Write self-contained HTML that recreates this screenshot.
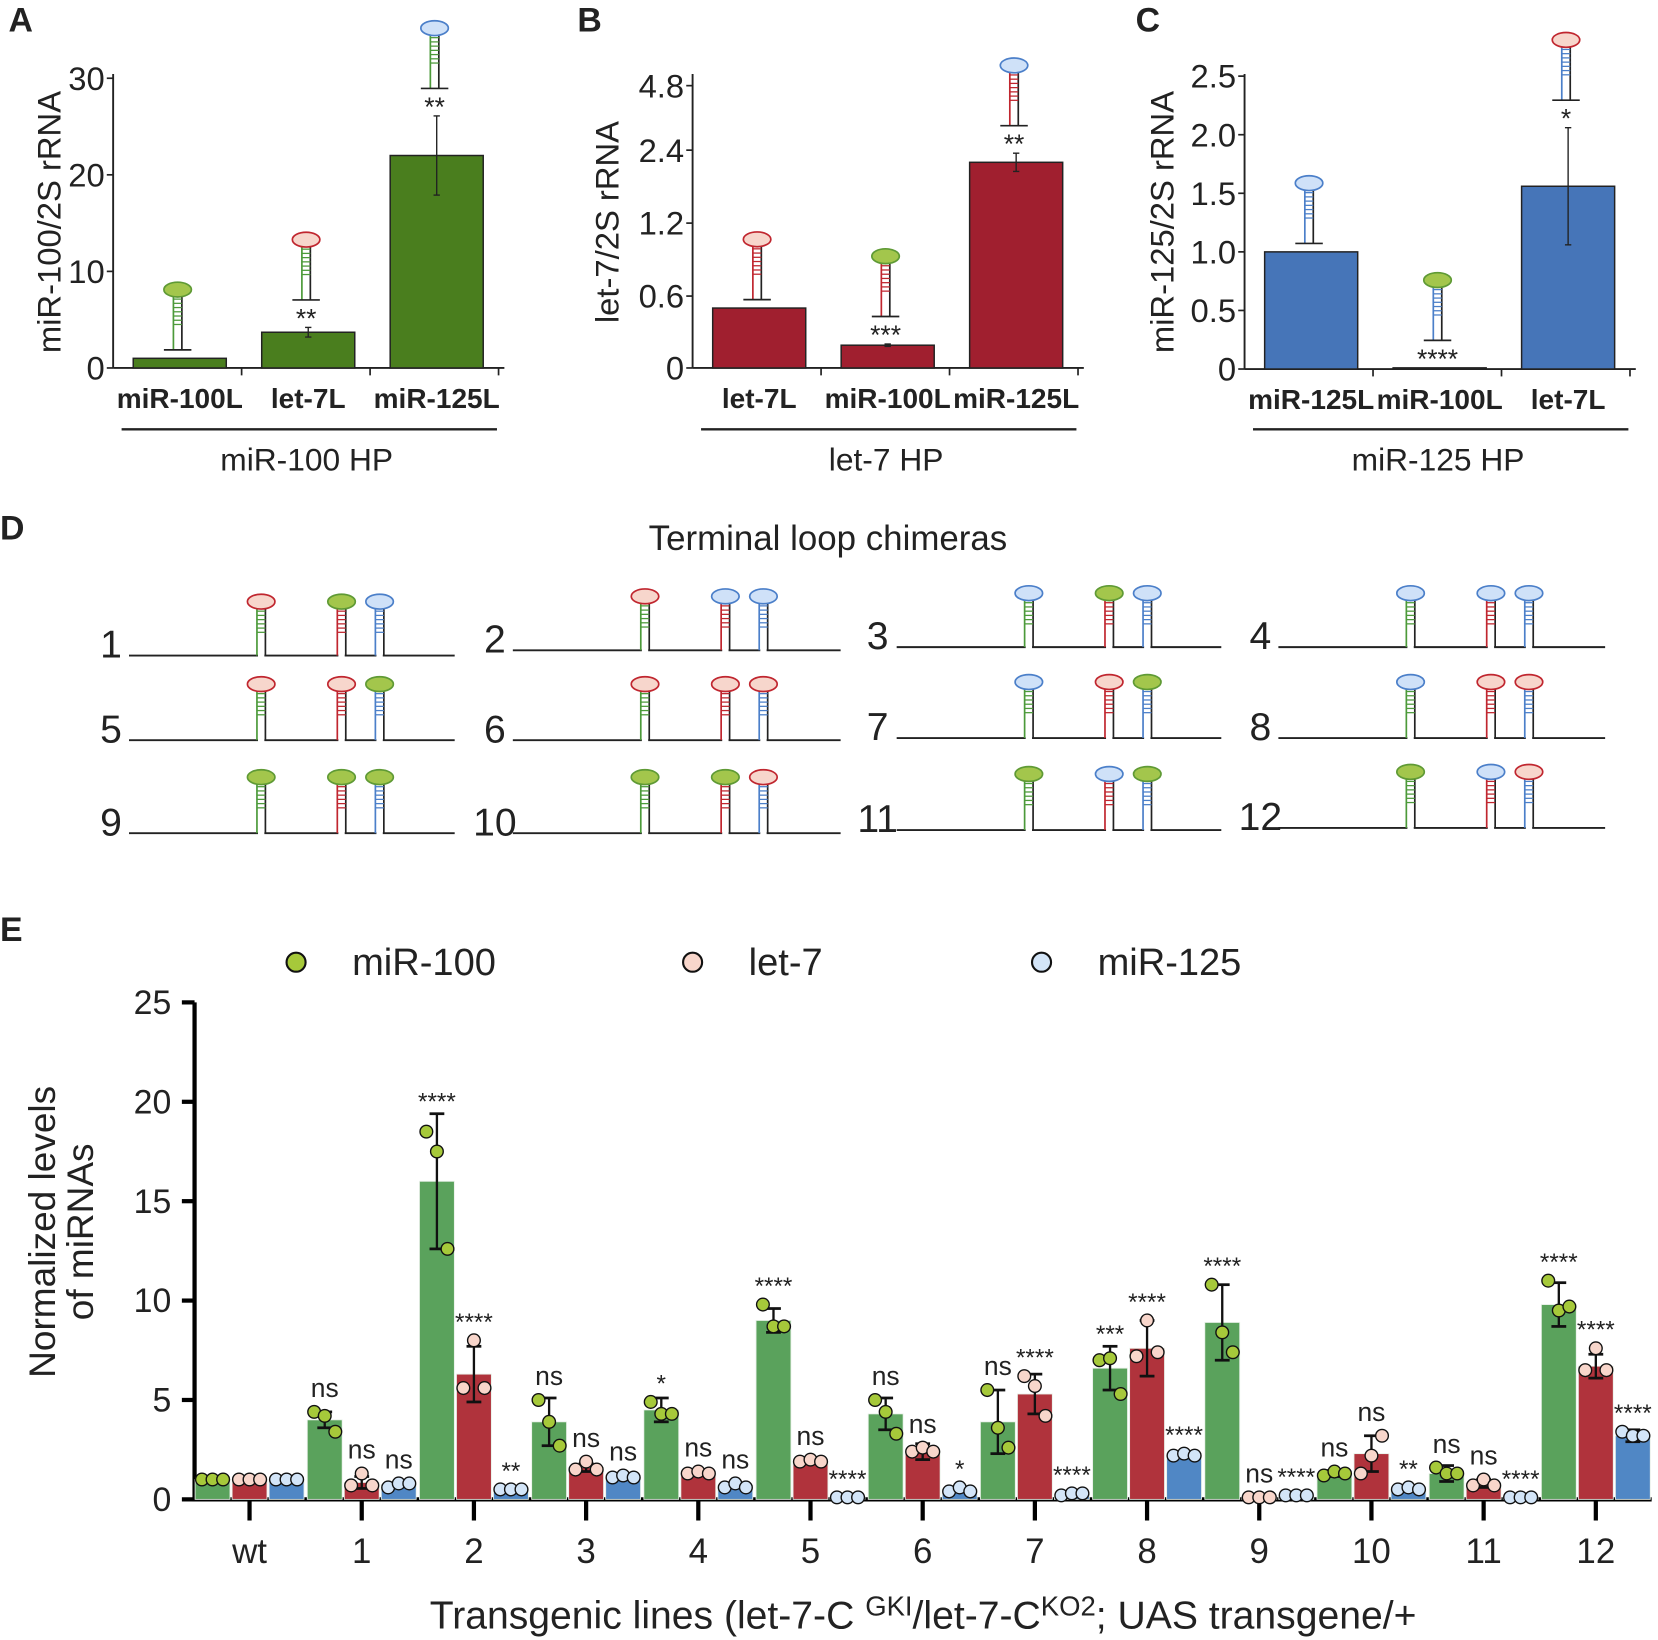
<!DOCTYPE html>
<html><head><meta charset="utf-8"><style>
html,body{margin:0;padding:0;background:#fff}
svg{display:block}
text{font-family:"Liberation Sans",Arial,sans-serif;fill:#222}
</style></head><body>
<svg id="fig" width="1658" height="1640" viewBox="0 0 1568 1551" preserveAspectRatio="none" xmlns="http://www.w3.org/2000/svg"></svg>
<script>
// ---- Panel A data ----
const aCats = ["miR-100L","let-7L","miR-125L"];
const aVals = [1, 3.7, 22];
const aErr = [0, 0.5, 4.1];
const aSig = ["", "**", "**"];
const aTicks = [0,10,20,30];
// ---- Panel B data ----
const bCats = ["let-7L","miR-100L","miR-125L"];
const bVals = [0.5, 0.19, 2.2];
const bErr = [0, 0.01, 0.15];
const bSig = ["", "***", "**"];
const bTicks = [0,0.6,1.2,2.4,4.8];
// ---- Panel C data ----
const cCats = ["miR-125L","miR-100L","let-7L"];
const cVals = [1.0, 0.01, 1.56];
const cErr = [0, 0, 0.5];
const cSig = ["", "****", "*"];
const cTicks = [0,0.5,1.0,1.5,2.0,2.5];
const cTickLabels = ["0","0.5","1.0","1.5","2.0","2.5"];
// ---- Panel E data ----
const eCats = ["wt","1","2","3","4","5","6","7","8","9","10","11","12"];
const eGreen = [1,4.0,16.0,3.9,4.5,9.0,4.3,3.9,6.6,8.9,1.3,1.3,9.8];
const eRed =   [1,0.85,6.3,1.6,1.3,1.9,2.4,5.3,7.6,0.15,2.3,0.8,6.7];
const eBlue =  [1,0.75,0.5,1.1,0.7,0.15,0.5,0.25,2.2,0.2,0.5,0.15,3.2];
const eGreenErr = [0,0.4,3.4,1.2,0.6,0.6,0.8,1.6,1.1,1.9,0.15,0.4,1.1];
const eRedErr =   [0,0.3,1.4,0.2,0.1,0.1,0.4,1.0,1.4,0,0.9,0.2,0.6];
const eBlueErr =  [0,0.1,0.05,0.1,0.1,0,0.1,0.05,0.1,0,0.1,0,0.3];
const eGreenDots = [[1,1,1],[4.4,4.2,3.4],[18.5,17.5,12.6],[5.0,3.9,2.7],[4.9,4.3,4.3],[9.8,8.7,8.7],[5.0,4.4,3.3],[5.5,3.6,2.6],[7.0,7.1,5.3],[10.8,8.4,7.4],[1.2,1.4,1.3],[1.6,1.3,1.3],[11.0,9.5,9.7]];
const eRedDots = [[1,1,1],[0.7,1.3,0.7],[5.6,8.0,5.6],[1.5,1.9,1.5],[1.3,1.4,1.3],[1.9,2.0,1.9],[2.4,2.6,2.4],[6.2,5.7,4.2],[7.2,9.0,7.4],[0.1,0.1,0.1],[1.3,2.2,3.2],[0.7,1.0,0.7],[6.5,7.6,6.5]];
const eBlueDots = [[1,1,1],[0.6,0.8,0.8],[0.5,0.5,0.5],[1.1,1.2,1.1],[0.6,0.8,0.6],[0.1,0.1,0.1],[0.4,0.6,0.4],[0.2,0.3,0.3],[2.2,2.3,2.2],[0.2,0.2,0.2],[0.5,0.6,0.5],[0.1,0.1,0.1],[3.4,3.2,3.2]];
const eGreenSig = ["","ns","****","ns","*","****","ns","ns","***","****","ns","ns","****"];
const eRedSig = ["","ns","****","ns","ns","ns","ns","****","****","ns","ns","ns","****"];
const eBlueSig = ["","ns","**","ns","ns","****","*","****","****","****","**","****","****"];
const eTicks = [0,5,10,15,20,25];
// ---- Panel D data (loop colours per construct) ----
const dLoops = [["R","G","B"],["R","B","B"],["B","G","B"],["B","B","B"],["R","R","G"],["R","R","R"],["B","R","G"],["B","R","R"],["G","G","G"],["G","G","R"],["G","B","G"],["G","B","R"]];

const NS="http://www.w3.org/2000/svg";
const svg=document.getElementById('fig');
function el(tag,attrs,parent){const e=document.createElementNS(NS,tag);for(const k in attrs)e.setAttribute(k,attrs[k]);(parent||svg).appendChild(e);return e;}
function txt(x,y,s,size,attrs,parent){const t=el('text',Object.assign({x:x,y:y,'font-size':size},attrs||{}),parent);t.textContent=s;return t;}
const LOOP={G:{f:"#a3c64c",s:"#5f9a35"},R:{f:"#f7d6cc",s:"#c0262f"},B:{f:"#cfe1f8",s:"#4b7fc9"}};
const STEM={G:"#4c9a3a",R:"#c0262f",B:"#4b7fc9"};
function hairpin(cx,top,bottom,loop,stem,base,parent){
  const g=el('g',{},parent);
  
  
  const ly=top+7;
  el('line',{x1:cx-4,y1:ly+6,x2:cx-4,y2:bottom,stroke:STEM[stem],'stroke-width':1.6},g);
  el('line',{x1:cx+4,y1:ly+6,x2:cx+4,y2:bottom,stroke:'#222','stroke-width':1.6},g);
  const rl=(bottom-ly)*0.6;
  for(let y=ly+9;y<ly+rl;y+=4)el('line',{x1:cx-4,y1:y,x2:cx+4,y2:y,stroke:STEM[stem],'stroke-width':1.2},g);
  el('ellipse',{cx:cx,cy:ly,rx:13,ry:7,fill:LOOP[loop].f,stroke:LOOP[loop].s,'stroke-width':1.6},g);
  if(base)el('line',{x1:cx-13,y1:bottom,x2:cx+13,y2:bottom,stroke:'#222','stroke-width':1.6},g);
  return g;
}
function panelLetter(x,y,s){const t=txt(x,y,s,32,{'font-weight':'bold',fill:'#000'});}

// ---- Top panels ----
function topPanel(cfg){
  const g=el('g',{});
  
  
  const y=cfg.yfun;
  el('line',{x1:cfg.ax,y1:cfg.y0,x2:cfg.ax,y2:cfg.ytop,stroke:'#222','stroke-width':1.8},g);
  el('line',{x1:cfg.ax,y1:cfg.y0,x2:cfg.ax+370,y2:cfg.y0,stroke:'#222','stroke-width':1.8},g);
  cfg.ticks.forEach((t,k)=>{
    el('line',{x1:cfg.ax-6,y1:y(t),x2:cfg.ax,y2:y(t),stroke:'#222','stroke-width':1.6},g);
    const lb=txt(cfg.ax-8,y(t)+11,cfg.tickLabels?cfg.tickLabels[k]:String(t),31,{'text-anchor':'end'},g);
    
    
  });
  for(let i=1;i<=3;i++){const tx=cfg.ax+i*121.5;el('line',{x1:tx,y1:cfg.y0,x2:tx,y2:cfg.y0+7,stroke:'#222','stroke-width':1.6},g);}
  cfg.vals.forEach((v,i)=>{
    const x0=cfg.ax+19+i*121.5, w=88;
    const r=el('rect',{x:x0,y:y(v),width:w,height:Math.max(cfg.y0-y(v),1),fill:cfg.color,stroke:'#222','stroke-width':1.4},g);
    
    
    const cx=x0+w/2;
    let topY=y(v);
    if(cfg.err[i]>0){
      const e1=y(v+cfg.err[i]),e2=y(Math.max(v-cfg.err[i],0));
      el('line',{x1:cx,y1:e1,x2:cx,y2:e2,stroke:'#222','stroke-width':1.3},g);
      el('line',{x1:cx-3,y1:e1,x2:cx+3,y2:e1,stroke:'#222','stroke-width':1.3},g);
      el('line',{x1:cx-3,y1:e2,x2:cx+3,y2:e2,stroke:'#222','stroke-width':1.3},g);
      topY=e1;
    }
    let sy=topY-8;
    if(cfg.sig[i]){const s=txt(cx-2,sy+8,cfg.sig[i],25,{'text-anchor':'middle'},g);sy-=18;}
    hairpin(cx-2,sy-64,sy,cfg.loops[i],cfg.stem,true,g);
    const cl=txt(cx,cfg.y0+38,cfg.cats[i],26.5,{'text-anchor':'middle','font-weight':'bold'},g);
    
    
  });
  el('line',{x1:cfg.ax+8,y1:406,x2:cfg.ax+363,y2:406,stroke:'#222','stroke-width':2.2},g);
  const gl=txt(cfg.ax+183,445,cfg.group,30,{'text-anchor':'middle'},g);
  
  const yt=txt(0,0,cfg.ytitle,31,{'text-anchor':'middle',transform:`translate(${cfg.ax-cfg.tOff},210) rotate(-90)`},g);
  
}
topPanel({name:'panel-a-chart',ax:107,tOff:50,y0:348,ytop:70,yfun:v=>348-v*(274/30),ticks:aTicks,vals:aVals,err:aErr,sig:aSig,cats:aCats,color:'#4a7e1e',stem:'G',loops:['G','R','B'],group:'miR-100 HP',ytitle:'miR-100/2S rRNA'});
const bPos=[348,280,211,142,81];
function bY(v){for(let i=0;i<bTicks.length-1;i++){if(v<=bTicks[i+1]){return bPos[i]+(v-bTicks[i])/(bTicks[i+1]-bTicks[i])*(bPos[i+1]-bPos[i]);}}return bPos[4];}
topPanel({name:'panel-b-chart',ax:655,tOff:70,y0:348,ytop:70,yfun:bY,ticks:bTicks,vals:bVals,err:bErr,sig:bSig,cats:bCats,color:'#a01f2f',stem:'R',loops:['R','G','B'],group:'let-7 HP',ytitle:'let-7/2S rRNA'});
topPanel({name:'panel-c-chart',ax:1177,tOff:67,y0:349,ytop:70,yfun:v=>349-v*(277/2.5),ticks:cTicks,tickLabels:cTickLabels,vals:cVals,err:cErr,sig:cSig,cats:cCats,color:'#4675b8',stem:'B',loops:['B','G','R'],group:'miR-125 HP',ytitle:'miR-125/2S rRNA'});
panelLetter(8,30,'A');panelLetter(546,30,'B');panelLetter(1074,30,'C');

// ---- Panel D ----
panelLetter(0,510,'D');
const dt=txt(783,520,'Terminal loop chimeras',33,{'text-anchor':'middle'});

const colX=[[105,122,430],[468,485,795],[830,848,1155],[1192,1209,1518]];
const rowY=[[620,615,612,612],[700,700,698,698],[788,788,785,783]];
dLoops.forEach((loops,k)=>{
  const r=Math.floor(k/4),c=k%4;
  const [nx,lx0,lx1]=colX[c];const ly=rowY[r][c];
  const g=el('g',{});
  
  
  txt(nx,ly+2,String(k+1),37,{'text-anchor':'middle'},g);
  el('line',{x1:lx0,y1:ly,x2:lx1,y2:ly,stroke:'#222','stroke-width':1.8},g);
  const offs=[125,201,237];
  const stems=['G','R','B'];
  offs.forEach((o,j)=>{const cx=lx0+o;el('rect',{x:cx-3,y:ly-3,width:6,height:6,fill:'#fff'},g);hairpin(cx,ly-60+(r===0?2:0),ly,loops[j],stems[j],false,g);});
});

// ---- Panel E ----
panelLetter(0,890,'E');
const eAx=184,eY0=1418,eTop=948;
const ey=v=>eY0-v*(eY0-eTop)/25;
const gx=i=>236+i*106.1;
const eColors=['#5aa25c','#b0333c','#5087c5'];
const dotFill=['#a6c93a','#f8d6cb','#d3e5f8'];
const legendNames=['miR-100','let-7','miR-125'];
[[280,333],[655,708],[985,1038]].forEach((p,i)=>{
  const g=el('g',{});
  
  
  el('circle',{cx:p[0],cy:910,r:9,fill:dotFill[i],stroke:'#111','stroke-width':2},g);
  txt(p[1],922,legendNames[i],36,{},g);
});
const eAxes=el('g',{});


el('line',{x1:eAx,y1:eY0+2,x2:eAx,y2:eTop,stroke:'#000','stroke-width':4},eAxes);
el('line',{x1:eAx-2,y1:eY0,x2:1562,y2:eY0,stroke:'#000','stroke-width':4},eAxes);
eTicks.forEach(t=>{
  el('line',{x1:eAx-12,y1:ey(t),x2:eAx,y2:ey(t),stroke:'#000','stroke-width':4},eAxes);
  const l=txt(eAx-22,ey(t)+11,String(t),32,{'text-anchor':'end'},eAxes);
  
});
eCats.forEach((c,i)=>{
  el('line',{x1:gx(i),y1:eY0,x2:gx(i),y2:eY0+20,stroke:'#000','stroke-width':4},eAxes);
  const l=txt(gx(i),1478,c,33,{'text-anchor':'middle'},eAxes);
  
});
const yt1=txt(0,0,'Normalized levels',35,{'text-anchor':'middle',transform:'translate(52,1165) rotate(-90)'});

const yt2=txt(0,0,'of miRNAs',35,{'text-anchor':'middle',transform:'translate(88,1165) rotate(-90)'});

const xt=el('text',{x:873,y:1540,'font-size':37,'text-anchor':'middle'});

xt.innerHTML='Transgenic lines (let-7-C <tspan dy="-12" font-size="26">GKI</tspan><tspan dy="12">/let-7-C</tspan><tspan dy="-12" font-size="26">KO2</tspan><tspan dy="12">; UAS transgene/+</tspan>';

const series=[[eGreen,eGreenErr,eGreenDots,eGreenSig],[eRed,eRedErr,eRedDots,eRedSig],[eBlue,eBlueErr,eBlueDots,eBlueSig]];
series.forEach((s,si)=>{
  const [vals,errs,dots,sigs]=s;
  vals.forEach((v,i)=>{
    const cx=gx(i)+(si-1)*35, w=33;
    const g=el('g',{});
    
    
    el('rect',{x:cx-w/2,y:ey(v),width:w,height:eY0-ey(v),fill:eColors[si],stroke:'#e8f0e8','stroke-width':0.8},g);
    let top=ey(v);
    if(errs[i]>0.12){
      const e1=ey(v+errs[i]),e2=ey(Math.max(v-errs[i],0));
      el('line',{x1:cx,y1:e1,x2:cx,y2:e2,stroke:'#111','stroke-width':2.2},g);
      el('line',{x1:cx-7,y1:e1,x2:cx+7,y2:e1,stroke:'#111','stroke-width':2.6},g);
      el('line',{x1:cx-7,y1:e2,x2:cx+7,y2:e2,stroke:'#111','stroke-width':2.6},g);
      top=Math.min(top,e1);
    }
    dots[i].forEach((d,k)=>{
      const dx=(k-1)*10;
      el('circle',{cx:cx+dx,cy:ey(d),r:6,fill:dotFill[si],stroke:'#111','stroke-width':1.3},g);
      top=Math.min(top,ey(d)-6);
    });
    if(sigs[i]){
      const star=sigs[i]!=='ns';
      const l=txt(cx,top-(star?4:8),sigs[i],star?23:25,{'text-anchor':'middle'},g);
      
      
    }
  });
});
</script>
</body></html>
